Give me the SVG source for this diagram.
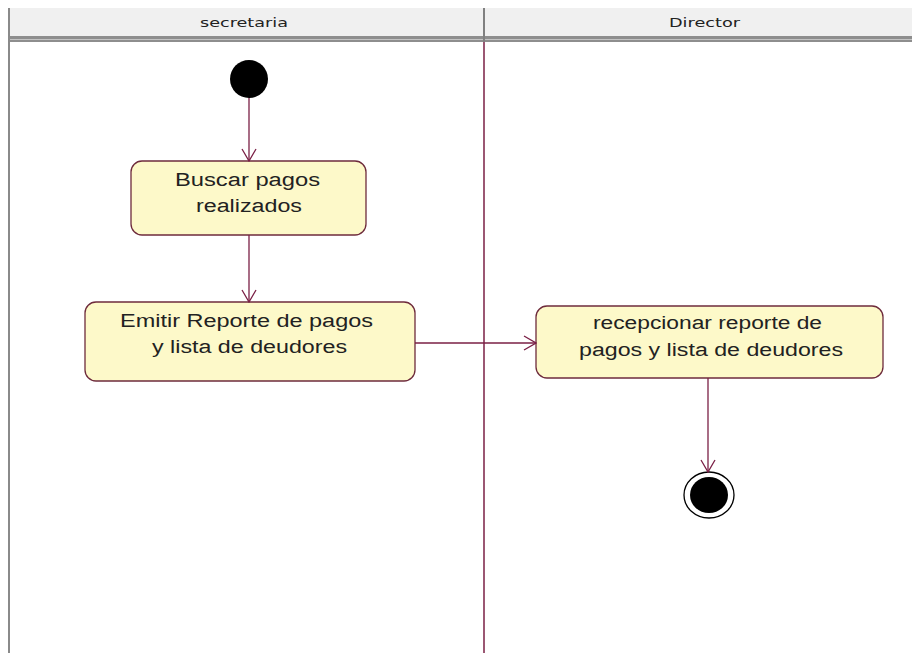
<svg xmlns="http://www.w3.org/2000/svg" width="912" height="653" viewBox="0 0 912 653">
  <style>
    .lane-title { font-family: Tahoma, "DejaVu Sans", sans-serif; font-size: 13px; fill: #222; }
    .act rect { fill: #fdf9c9; stroke: #6e2b3c; stroke-width: 1.3; }
    .act text { font-family: "Liberation Sans", Arial, sans-serif; font-size: 18px; fill: #222; }
    .flow { stroke: #7a1f45; stroke-width: 1.3; fill: none; }
  </style>
  <defs>
    <marker id="open" viewBox="0 0 14 16" refX="13" refY="8" markerWidth="14" markerHeight="16" markerUnits="userSpaceOnUse" orient="auto">
      <path d="M1,1 L13,8 L1,15" fill="none" stroke="#7a1f45" stroke-width="1.3"/>
    </marker>
  </defs>

  <rect width="912" height="653" fill="#ffffff"/>

  <!-- swimlane header and lane borders -->
  <g id="lanes">
    <rect x="8" y="8" width="904" height="29" fill="#f0f0f0"/>
    <rect x="8" y="36" width="904" height="6" fill="#8e8e8e"/>
    <line x1="8" y1="39.5" x2="912" y2="39.5" stroke="#c4c4c4" stroke-width="1"/>
    <line x1="9" y1="8" x2="9" y2="653" stroke="#8a8a8a" stroke-width="2"/>
    <line x1="484" y1="8" x2="484" y2="42" stroke="#808080" stroke-width="2"/>
    <line x1="484" y1="42" x2="484" y2="653" stroke="#7a1f45" stroke-width="1.5"/>
    <text class="lane-title" x="200" y="27" textLength="88" lengthAdjust="spacingAndGlyphs">secretaria</text>
    <text class="lane-title" x="669" y="27" textLength="71" lengthAdjust="spacingAndGlyphs">Director</text>
  </g>

  <!-- start node -->
  <g id="start">
    <circle cx="249" cy="79" r="19" fill="#000"/>
  </g>

  <g id="buscar" class="act">
    <rect x="131" y="161" width="235" height="74" rx="11"/>
    <text x="175" y="186" textLength="145" lengthAdjust="spacingAndGlyphs">Buscar pagos</text>
    <text x="196" y="212" textLength="106" lengthAdjust="spacingAndGlyphs">realizados</text>
  </g>

  <g id="emitir" class="act">
    <rect x="85" y="302" width="330" height="79" rx="11"/>
    <text x="120" y="327" textLength="253" lengthAdjust="spacingAndGlyphs">Emitir Reporte de pagos</text>
    <text x="152" y="353" textLength="195" lengthAdjust="spacingAndGlyphs">y lista de deudores</text>
  </g>

  <g id="recepcionar" class="act">
    <rect x="536" y="306" width="347" height="72" rx="11"/>
    <text x="593" y="329" textLength="229" lengthAdjust="spacingAndGlyphs">recepcionar reporte de</text>
    <text x="579" y="356" textLength="264" lengthAdjust="spacingAndGlyphs">pagos y lista de deudores</text>
  </g>

  <!-- final node -->
  <g id="end">
    <ellipse cx="709" cy="495" rx="25" ry="23" fill="#fff" stroke="#000" stroke-width="1.3"/>
    <ellipse cx="709" cy="495" rx="19" ry="18" fill="#000"/>
  </g>

  <g id="connectors">
    <line class="flow" x1="249" y1="98" x2="249" y2="161" marker-end="url(#open)"/>
    <line class="flow" x1="249" y1="235" x2="249" y2="302" marker-end="url(#open)"/>
    <line class="flow" x1="415" y1="343" x2="536" y2="343" marker-end="url(#open)"/>
    <line class="flow" x1="708" y1="378" x2="708" y2="472" marker-end="url(#open)"/>
  </g>
</svg>
